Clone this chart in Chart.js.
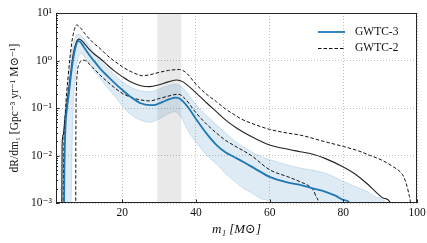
<!DOCTYPE html>
<html>
<head>
<meta charset="utf-8">
<script src="https://cdn.jsdelivr.net/npm/chart.js@4.4.1/dist/chart.umd.min.js"></script>
<style>
  html, body { margin: 0; padding: 0; background: #fff; overflow: hidden; }
  #wrap { width: 427px; height: 243px; }
  canvas { display: block; }
</style>
</head>
<body>
<div id="wrap"><canvas id="massChart" width="427" height="243"></canvas></div>
<script>
// primary mass grid for the 90% band of GWTC-3
const massBand = [3.6, 3.75, 4.2, 5.0, 5.8, 6.1, 6.5, 7.3, 8.0, 8.8, 10, 12, 14, 16, 18, 20, 22.5, 25, 27.5, 30, 32.5, 34.3, 36, 38, 40, 43, 45.6, 48, 50.6, 53, 55, 58, 60, 60.5, 65, 68, 75, 80, 84, 86.5, 89, 91.5, 92];
const bandUpper = [0.0005, 0.01, 0.0501, 0.251, 0.891, 1.26, 2.0, 3.16, 3.55, 3.31, 2.63, 1.58, 1.0, 0.692, 0.49, 0.355, 0.269, 0.229, 0.219, 0.251, 0.295, 0.316, 0.282, 0.191, 0.117, 0.0676, 0.0437, 0.0302, 0.02, 0.0151, 0.012, 0.00933, 0.00813, 0.00794, 0.00631, 0.0055, 0.00427, 0.00288, 0.00209, 0.00174, 0.00132, 0.001, 0.0005];
const bandLower = [0.0005, 0.0005, 0.0005, 0.0005, 0.0005, 0.001, 0.0398, 0.501, 1.12, 1.41, 1.12, 0.661, 0.417, 0.263, 0.174, 0.11, 0.0708, 0.055, 0.0501, 0.0589, 0.0759, 0.0832, 0.0631, 0.0316, 0.0191, 0.01, 0.0066, 0.00417, 0.00282, 0.002, 0.00166, 0.0012, 0.001, 0.0005, 0.0005, 0.0005, 0.0005, 0.0005, 0.0005, 0.0005, 0.0005, 0.0005, 0.0005];

// GWTC-3 median
const massGwtc3 = [4.1, 4.2, 4.3, 4.6, 5.0, 5.5, 6.0, 6.7, 7.3, 8.0, 8.5, 9.0, 10, 11, 12, 14, 16, 18, 20, 22, 25, 27.5, 29, 31, 33, 34.3, 35.5, 36.6, 38, 40, 43, 45.6, 48, 50.6, 53, 56, 60, 65, 68.3, 72, 75, 78, 80.2, 81.7, 82];
const gwtc3Median = [0.0005, 0.001, 0.0063, 0.0447, 0.1, 0.204, 0.447, 1.12, 1.9, 2.57, 2.51, 2.24, 1.7, 1.32, 1.05, 0.676, 0.468, 0.331, 0.24, 0.178, 0.126, 0.115, 0.117, 0.135, 0.155, 0.166, 0.158, 0.135, 0.1, 0.0589, 0.0282, 0.0166, 0.0117, 0.0091, 0.0072, 0.0053, 0.00355, 0.00269, 0.0024, 0.002, 0.00174, 0.00141, 0.00115, 0.001, 0.0005];

// GWTC-2 median and 90% bounds
const massGwtc2Med = [3.55, 3.65, 4.0, 4.4, 5.3, 6.0, 6.7, 7.5, 8.2, 9.0, 10, 11, 12, 14, 16, 18, 20, 22.5, 25, 27.5, 30, 32.5, 34.8, 36.5, 38, 40, 43, 45.6, 48, 51, 55, 60, 65, 68.3, 72, 75, 80, 83, 86.4, 89, 91, 92.8, 93.2];
const gwtc2Median = [0.0005, 0.0158, 0.0282, 0.0562, 0.204, 0.562, 1.41, 2.4, 2.82, 2.63, 2.14, 1.74, 1.45, 1.1, 0.794, 0.589, 0.457, 0.347, 0.295, 0.282, 0.309, 0.355, 0.389, 0.355, 0.288, 0.209, 0.126, 0.0832, 0.0562, 0.038, 0.0251, 0.0166, 0.0135, 0.012, 0.0105, 0.0087, 0.00575, 0.00417, 0.00257, 0.00166, 0.00126, 0.001, 0.0005];
const massGwtc2Hi = [3.9, 4.1, 4.6, 5.3, 6.25, 7.0, 7.6, 8.5, 10, 12, 14, 16, 18, 20, 22, 24, 25.5, 27.5, 30, 32.5, 35.5, 37.5, 40, 43, 45.6, 48, 50.6, 52, 55, 60, 65, 68.3, 75, 80, 84, 87.3, 90.5, 93.6, 95.5, 96.4, 97.3, 97.9, 98.2, 98.3];
const gwtc2Upper = [0.0005, 0.01, 0.0912, 0.457, 2.29, 4.47, 5.62, 5.01, 3.55, 2.4, 1.78, 1.26, 0.955, 0.741, 0.603, 0.513, 0.479, 0.501, 0.562, 0.617, 0.646, 0.537, 0.316, 0.191, 0.135, 0.0955, 0.0708, 0.0603, 0.0479, 0.0355, 0.0295, 0.0269, 0.0195, 0.0155, 0.0126, 0.01, 0.00794, 0.00575, 0.00447, 0.00355, 0.00224, 0.00141, 0.001, 0.0005];
const massGwtc2Lo = [7.35, 7.4, 7.55, 7.8, 8.3, 9.0, 9.6, 10.3, 12, 14, 16, 18, 20, 22.5, 25, 27.5, 30, 32, 35.2, 37, 40, 43, 45.6, 48, 50.6, 55, 60, 65, 68.8, 71, 72, 72.7, 73.2, 73.3];
const gwtc2Lower = [0.0005, 0.0316, 0.251, 0.562, 0.851, 1.0, 1.02, 0.955, 0.708, 0.49, 0.355, 0.263, 0.204, 0.166, 0.148, 0.141, 0.158, 0.174, 0.195, 0.158, 0.0794, 0.0447, 0.0295, 0.0209, 0.0158, 0.01, 0.00501, 0.00355, 0.00269, 0.00219, 0.00178, 0.00132, 0.001, 0.0005];

// shaded mass range and axes
const peakRange = [29.5, 36];
const xTicks = [20, 40, 60, 80, 100];
const yTicks = [0.001, 0.01, 0.1, 1, 10];
const yTickLabels = ['10\u207B\u00B3', '10\u207B\u00B2', '10\u207B\u00B9', '10\u2070', '10\u00B9'];
const legendLabels = ['GWTC-3', 'GWTC-2'];

const BLUE = '#1f77b4';
const SERIF = "'Liberation Serif', 'DejaVu Serif', serif";

const pts = (xs, ys) => xs.map((x, i) => ({ x: x, y: ys[i] }));

// grey band behind the curves
const bandPlugin = {
    id: 'peakBand',
    beforeDatasetsDraw(chart) {
        const { ctx, chartArea, scales } = chart;
        const x0 = scales.x.getPixelForValue(peakRange[0]);
        const x1 = scales.x.getPixelForValue(peakRange[1]);
        ctx.save();
        ctx.fillStyle = 'rgba(0,0,0,0.085)';
        ctx.fillRect(x0, chartArea.top, x1 - x0, chartArea.bottom - chartArea.top);
        ctx.restore();
    }
};

// frame, inward ticks, x tick labels and legend
const framePlugin = {
    id: 'frame',
    afterDraw(chart) {
        const { ctx, chartArea: a, scales } = chart;
        ctx.save();
        ctx.strokeStyle = '#262626';
        ctx.lineWidth = 1;
        ctx.strokeRect(a.left + 0.5, a.top + 0.5, a.right - a.left - 1, a.bottom - a.top - 1);
        ctx.beginPath();
        xTicks.forEach(v => {
            const px = Math.round(scales.x.getPixelForValue(v)) + 0.5;
            ctx.moveTo(px, a.bottom); ctx.lineTo(px, a.bottom - 3.5);
        });
        yTicks.forEach(v => {
            const py = Math.round(scales.y.getPixelForValue(v)) + 0.5;
            ctx.moveTo(a.left, py); ctx.lineTo(a.left + 3.5, py);
        });
        for (let e = -3; e < 1; e++) {
            for (let k = 2; k <= 9; k++) {
                const py = Math.round(scales.y.getPixelForValue(k * Math.pow(10, e))) + 0.5;
                ctx.moveTo(a.left, py); ctx.lineTo(a.left + 2, py);
            }
        }
        ctx.stroke();

        ctx.font = '11.5px ' + SERIF;
        ctx.fillStyle = '#111';
        ctx.textAlign = 'center';
        ctx.textBaseline = 'top';
        xTicks.forEach(v => {
            ctx.fillText(String(v), scales.x.getPixelForValue(v), a.bottom + 4);
        });

        // legend
        const lx = 318, tx = 355;
        const rows = [32, 48];
        ctx.textAlign = 'left';
        ctx.textBaseline = 'middle';
        ctx.strokeStyle = BLUE;
        ctx.lineWidth = 1.8;
        ctx.beginPath(); ctx.moveTo(lx, rows[0]); ctx.lineTo(lx + 27, rows[0]); ctx.stroke();
        ctx.strokeStyle = '#111';
        ctx.lineWidth = 1;
        ctx.setLineDash([3.5, 2]);
        ctx.beginPath(); ctx.moveTo(lx, rows[1] + 0.5); ctx.lineTo(lx + 27, rows[1] + 0.5); ctx.stroke();
        ctx.setLineDash([]);
        ctx.fillText(legendLabels[0], tx, rows[0]);
        ctx.fillText(legendLabels[1], tx, rows[1]);
        ctx.restore();
    }
};

const lineBase = { pointRadius: 0, cubicInterpolationMode: 'monotone', fill: false };

new Chart(document.getElementById('massChart').getContext('2d'), {
    type: 'line',
    data: {
        datasets: [
            Object.assign({ label: 'GWTC-3', data: pts(massGwtc3, gwtc3Median), borderColor: BLUE, borderWidth: 1.8 }, lineBase),
            Object.assign({ label: 'GWTC-2 upper', data: pts(massGwtc2Hi, gwtc2Upper), borderColor: '#111', borderWidth: 1, borderDash: [3.5, 2] }, lineBase),
            Object.assign({ label: 'GWTC-2', data: pts(massGwtc2Med, gwtc2Median), borderColor: '#222', borderWidth: 1.1 }, lineBase),
            Object.assign({ label: 'GWTC-2 lower', data: pts(massGwtc2Lo, gwtc2Lower), borderColor: '#111', borderWidth: 1, borderDash: [3.5, 2] }, lineBase),
            { label: 'GWTC-3 90% upper', data: pts(massBand, bandUpper), borderColor: 'rgba(31,119,180,0.22)', borderWidth: 0.8,
              backgroundColor: 'rgba(31,119,180,0.15)', fill: '+1', pointRadius: 0, cubicInterpolationMode: 'monotone' },
            { label: 'GWTC-3 90% lower', data: pts(massBand, bandLower), borderColor: 'rgba(31,119,180,0.22)', borderWidth: 0.8,
              fill: false, pointRadius: 0, cubicInterpolationMode: 'monotone' }
        ]
    },
    options: {
        responsive: false,
        animation: false,
        events: [],
        layout: { padding: { top: 13, right: 10, left: 0, bottom: 0 } },
        plugins: { legend: { display: false }, tooltip: { enabled: false } },
        scales: {
            x: {
                type: 'linear',
                min: 2,
                max: 100,
                afterBuildTicks: (s) => { s.ticks = xTicks.map(v => ({ value: v })); },
                afterFit: (s) => { s.height = 40; },
                grid: { color: '#b0b0b0', lineWidth: 0.8, drawTicks: false },
                border: { display: false, dash: [1, 2] },
                ticks: { display: false },
                title: { display: true, text: 'm\u2081 [M\u2299]', color: '#111',
                         font: { family: SERIF, size: 13, style: 'italic' }, padding: { top: 0, bottom: 6 } }
            },
            y: {
                type: 'logarithmic',
                min: 0.001,
                max: 10,
                afterBuildTicks: (s) => { s.ticks = yTicks.map(v => ({ value: v })); },
                afterFit: (s) => { s.width = 56; },
                grid: { color: '#b0b0b0', lineWidth: 0.8, drawTicks: false },
                border: { display: false, dash: [1, 2] },
                ticks: { color: '#111', font: { family: SERIF, size: 11.5 }, padding: 4, autoSkip: false,
                         callback: (v) => yTickLabels[yTicks.indexOf(v)] },
                title: { display: true, text: 'dR/dm\u2081 [Gpc\u207B\u00B3 yr\u207B\u00B9 M\u2299\u207B\u00B9]', color: '#111',
                         font: { family: SERIF, size: 11.5 }, padding: { top: 8, bottom: 0 } }
            }
        }
    },
    plugins: [bandPlugin, framePlugin]
});
</script>
</body>
</html>
